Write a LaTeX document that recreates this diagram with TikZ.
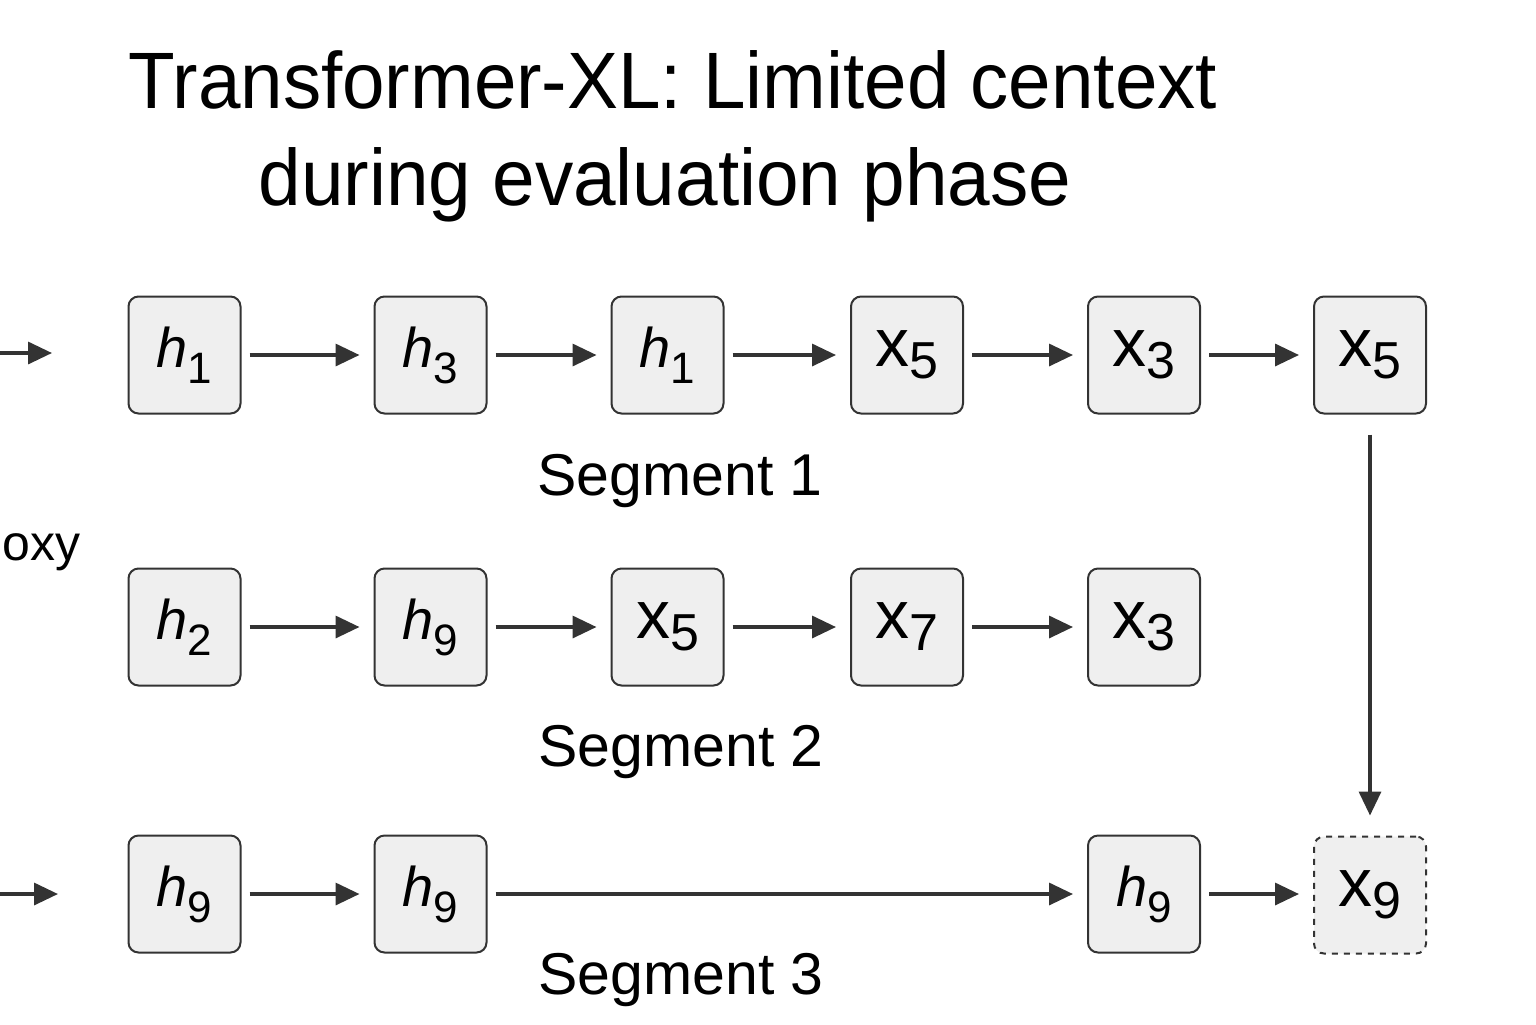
\documentclass[tikz,border=0pt]{standalone}
\usepackage{fontspec}
\setmainfont{Liberation Sans}
\usetikzlibrary{arrows.meta}
\definecolor{boxfill}{HTML}{EFEFEF}
\definecolor{ink}{HTML}{333333}
\newcommand{\htok}[1]{{\fontsize{28}{28}\selectfont\itshape h}\raisebox{-8pt}{\fontsize{22}{22}\selectfont #1}}
\newcommand{\xtok}[1]{{\fontsize{34}{34}\selectfont x}\raisebox{-6pt}{\fontsize{26}{26}\selectfont #1}}
\begin{document}
\begin{tikzpicture}[x=0.5pt,y=-0.5pt,
  tok/.style={draw=ink,fill=boxfill,line width=1pt,rounded corners=5pt,
    minimum width=56pt,minimum height=58.5pt,inner sep=0pt},
  dashtok/.style={tok,dashed},
  conn/.style={draw=ink,line width=1.7pt,-{Triangle[length=12pt,width=11pt]},
    shorten <=4pt,shorten >=7pt},
  seglabel/.style={font=\fontsize{29.5}{29.5}\selectfont,text=black},
  titletext/.style={font=\fontsize{40}{40}\selectfont,text=black,anchor=base}]
\useasboundingbox (0,0) rectangle (1536,1024);
% title
\node[titletext] (t1) at (673,108) {\scalebox{0.955}[1]{Transformer-XL: Limited centext}};
\node[titletext] (t2) at (665,205) {\scalebox{0.957}[1]{during evaluation phase}};
% side text
\node[anchor=base west,inner sep=0pt,font=\fontsize{25}{25}\selectfont] (oxy) at (2,560) {oxy};
% row 1
\node[tok] (a1) at (184.5,355) {\htok{1}};
\node[tok] (a2) at (430.5,355) {\htok{3}};
\node[tok] (a3) at (667.5,355) {\htok{1}};
\node[tok] (a4) at (907,355) {\xtok{5}};
\node[tok] (a5) at (1144,355) {\xtok{3}};
\node[tok] (a6) at (1370,355) {\xtok{5}};
% row 2
\node[tok] (b1) at (184.5,627) {\htok{2}};
\node[tok] (b2) at (430.5,627) {\htok{9}};
\node[tok] (b3) at (667.5,627) {\xtok{5}};
\node[tok] (b4) at (907,627) {\xtok{7}};
\node[tok] (b5) at (1144,627) {\xtok{3}};
% row 3
\node[tok] (c1) at (184.5,894) {\htok{9}};
\node[tok] (c2) at (430.5,894) {\htok{9}};
\node[tok] (c5) at (1144,894) {\htok{9}};
\node[dashtok] (c6) at (1370,895) {\xtok{9}};
% labels
\node[seglabel] (s1) at (680,481) {Segment 1};
\node[seglabel] (s2) at (681,752) {Segment 2};
\node[seglabel] (s3) at (681,980) {Segment 3};
% free ends
\coordinate (l1s) at (0,353);
\coordinate (l1e) at (52,353);
\coordinate (l3s) at (0,894);
\coordinate (l3e) at (58,894);
% connectors
\draw[conn,shorten <=0pt,shorten >=0pt] (l1s) -- (l1e);
\draw[conn,shorten <=0pt,shorten >=0pt] (l3s) -- (l3e);
\draw[conn] (a1) -- (a2);
\draw[conn] (a2) -- (a3);
\draw[conn] (a3) -- (a4);
\draw[conn] (a4) -- (a5);
\draw[conn] (a5) -- (a6);
\draw[conn] (b1) -- (b2);
\draw[conn] (b2) -- (b3);
\draw[conn] (b3) -- (b4);
\draw[conn] (b4) -- (b5);
\draw[conn] (c1) -- (c2);
\draw[conn] (c2) -- (c5);
\draw[conn] (c5.east) -- (c5.east -| c6.west);
\draw[conn,shorten <=10pt,shorten >=10pt] (a6) -- (c6);
\end{tikzpicture}
\end{document}
